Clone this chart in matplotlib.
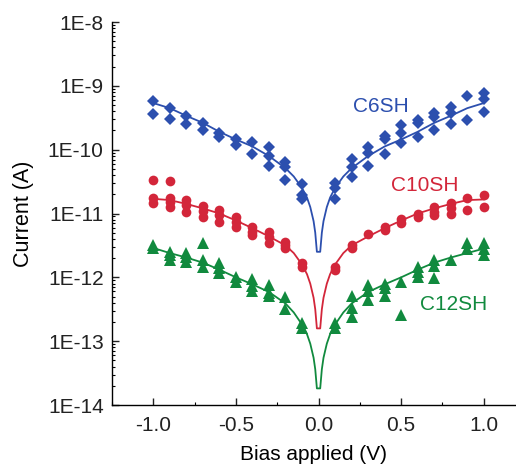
import matplotlib
matplotlib.use("Agg")
import matplotlib.pyplot as plt
import matplotlib.ticker as mpl_tick
import numpy as np

plt.rcParams['font.family'] = ['Liberation Sans', 'DejaVu Sans']
plt.rcParams['axes.unicode_minus'] = False

# gemessene Punkte (Bias in V, Strom in A)
c6_x = [-1.0, -1.0, -0.9, -0.9, -0.8, -0.8, -0.7, -0.7, -0.6, -0.6, -0.5, -0.5,
        -0.4, -0.4, -0.3, -0.3, -0.3, -0.2, -0.2, -0.2, -0.1, -0.1, -0.1,
        0.1, 0.1, 0.1, 0.2, 0.2, 0.2, 0.3, 0.3, 0.3, 0.4, 0.4, 0.4, 0.5, 0.5, 0.5,
        0.6, 0.6, 0.6, 0.7, 0.7, 0.7, 0.8, 0.8, 0.8, 0.9, 0.9, 1.0, 1.0, 1.0]
c6_i = [5.8e-10, 3.6e-10, 4.5e-10, 3.0e-10, 3.4e-10, 2.5e-10, 2.6e-10, 2.0e-10,
        1.8e-10, 1.56e-10, 1.45e-10, 1.2e-10, 1.3e-10, 8.5e-11, 1.1e-10, 7.9e-11, 5.5e-11,
        6.3e-11, 5.3e-11, 3.4e-11, 2.9e-11, 1.95e-11, 1.67e-11,
        3.0e-11, 2.5e-11, 1.7e-11, 7.1e-11, 5.3e-11, 3.7e-11, 1.09e-10, 9.0e-11, 5.5e-11,
        1.64e-10, 1.45e-10, 8.5e-11, 2.4e-10, 1.85e-10, 1.28e-10, 2.9e-10, 2.6e-10, 1.56e-10,
        3.7e-10, 3.3e-10, 2.0e-10, 4.7e-10, 3.8e-10, 2.5e-10, 6.9e-10, 2.9e-10,
        7.8e-10, 6.2e-10, 3.9e-10]

c10_x = [-1.0, -1.0, -1.0, -0.9, -0.9, -0.9, -0.9, -0.8, -0.8, -0.8, -0.7, -0.7, -0.7,
         -0.6, -0.6, -0.6, -0.5, -0.5, -0.5, -0.4, -0.4, -0.4, -0.3, -0.3, -0.3,
         -0.2, -0.2, -0.2, -0.1, -0.1, 0.1, 0.1, 0.2, 0.2, 0.3, 0.4, 0.4, 0.5, 0.5,
         0.6, 0.6, 0.7, 0.7, 0.7, 0.8, 0.8, 0.8, 0.9, 0.9, 1.0, 1.0]
c10_i = [3.35e-11, 1.73e-11, 1.44e-11, 3.2e-11, 1.73e-11, 1.53e-11, 1.28e-11,
         1.63e-11, 1.36e-11, 1.07e-11, 1.31e-11, 1.1e-11, 8.9e-12,
         1.13e-11, 9.5e-12, 7.4e-12, 8.7e-12, 7.4e-12, 6.2e-12, 6.2e-12, 5.2e-12, 4.6e-12,
         5.2e-12, 4.3e-12, 3.4e-12, 3.6e-12, 3.2e-12, 2.85e-12, 1.66e-12, 1.47e-12,
         1.47e-12, 1.3e-12, 3.2e-12, 2.85e-12, 4.8e-12, 6.2e-12, 5.5e-12, 8.1e-12, 7.2e-12,
         1.0e-11, 8.9e-12, 1.28e-11, 1.07e-11, 9.5e-12, 1.44e-11, 1.2e-11, 1.0e-11,
         1.73e-11, 1.13e-11, 1.95e-11, 1.28e-11]

c12_x = [-1.0, -1.0, -0.9, -0.9, -0.9, -0.8, -0.8, -0.8, -0.7, -0.7, -0.7,
         -0.6, -0.6, -0.6, -0.5, -0.5, -0.4, -0.4, -0.4, -0.3, -0.3, -0.3,
         -0.2, -0.2, -0.1, -0.1, 0.1, 0.1, 0.2, 0.2, 0.2, 0.3, 0.3, 0.3,
         0.4, 0.4, 0.4, 0.5, 0.5, 0.6, 0.6, 0.6, 0.7, 0.7, 0.7, 0.8, 0.9, 0.9,
         1.0, 1.0, 1.0]
c12_i = [3.2e-12, 2.85e-12, 2.5e-12, 2.24e-12, 1.87e-12, 2.43e-12, 2.1e-12, 1.76e-12,
         3.5e-12, 1.9e-12, 1.47e-12, 1.7e-12, 1.39e-12, 1.16e-12, 1.02e-12, 8.5e-13,
         9.3e-13, 7.3e-13, 6.0e-13, 7.6e-13, 5.6e-13, 5.1e-13, 4.9e-13, 3.2e-13,
         1.9e-13, 1.6e-13, 1.9e-13, 1.6e-13, 5.1e-13, 3.3e-13, 2.4e-13,
         7.6e-13, 6.0e-13, 4.4e-13, 8.0e-13, 6.7e-13, 5.1e-13, 8.5e-13, 2.6e-13,
         1.47e-12, 1.23e-12, 1.02e-12, 1.9e-12, 1.5e-12, 9.7e-13, 1.9e-12,
         3.5e-12, 2.75e-12, 3.4e-12, 2.75e-12, 2.24e-12]

# Fitkurven (log10 des Stroms)
fit_v = [-1.0, -0.9, -0.8, -0.7, -0.6, -0.5, -0.4, -0.3, -0.2, -0.15, -0.1, -0.07,
         -0.05, -0.03, -0.02, -0.01, 0.01, 0.02, 0.03, 0.05, 0.07, 0.1, 0.15, 0.2,
         0.3, 0.4, 0.5, 0.6, 0.7, 0.8, 0.9, 1.0]
fit_c6 = [-9.27, -9.35, -9.47, -9.58, -9.72, -9.84, -9.95, -10.10, -10.29, -10.42, -10.60,
          -10.75, -10.90, -11.12, -11.30, -11.60, -11.60, -11.30, -11.12, -10.90, -10.75,
          -10.60, -10.42, -10.29, -10.10, -9.95, -9.84, -9.72, -9.58, -9.47, -9.35, -9.27]
fit_c10 = [-10.77, -10.79, -10.85, -10.92, -11.00, -11.11, -11.23, -11.36, -11.50, -11.62,
           -11.80, -11.95, -12.10, -12.32, -12.50, -12.80, -12.80, -12.50, -12.32, -12.10,
           -11.95, -11.80, -11.62, -11.50, -11.36, -11.23, -11.11, -11.00, -10.92, -10.85,
           -10.79, -10.78]
fit_c12 = [-11.54, -11.62, -11.69, -11.77, -11.88, -12.00, -12.11, -12.23, -12.41, -12.55,
           -12.74, -12.89, -13.04, -13.26, -13.44, -13.74, -13.74, -13.44, -13.26, -13.04,
           -12.89, -12.74, -12.55, -12.41, -12.23, -12.11, -12.00, -11.88, -11.77, -11.69,
           -11.62, -11.55]

y_ticks = [1e-14, 1e-13, 1e-12, 1e-11, 1e-10, 1e-9, 1e-8]
y_labels = ["1E-14", "1E-13", "1E-12", "1E-11", "1E-10", "1E-9", "1E-8"]

blau = '#2c4fae'
rot = '#d3263a'
gruen = '#118a3e'

fig = plt.figure(figsize=(5.16, 4.72), dpi=100)
ax = fig.add_axes([112 / 516, 67 / 472, 404 / 516, 383 / 472])

ax.plot(fit_v, 10 ** np.array(fit_c6), color=blau, lw=1.3)
ax.plot(fit_v, 10 ** np.array(fit_c10), color=rot, lw=1.3)
ax.plot(fit_v, 10 ** np.array(fit_c12), color=gruen, lw=1.3)

ax.plot(c6_x, c6_i, 'D', color=blau, ms=6.5, mew=0)
ax.plot(c10_x, c10_i, 'o', color=rot, ms=7, mew=0)
ax.plot(c12_x, c12_i, '^', color=gruen, ms=8, mew=0)

ax.text(0.38, 4.8e-10, "C6SH", color=blau, fontsize=15, ha='center', va='center')
ax.text(0.645, 2.7e-11, "C10SH", color=rot, fontsize=15, ha='center', va='center')
ax.text(0.815, 3.7e-13, "C12SH", color=gruen, fontsize=15, ha='center', va='center')

ax.set_yscale('log')
ax.set_ylim(1e-14, 1e-8)
ax.set_xlim(-1.25, 1.195)
ax.set_yticks(y_ticks)
ax.set_yticklabels(y_labels)
ax.yaxis.set_minor_locator(mpl_tick.LogLocator(base=10, subs=np.arange(2, 10), numticks=20))
ax.yaxis.set_minor_formatter(mpl_tick.NullFormatter())
ax.set_xticks([-1.0, -0.5, 0.0, 0.5, 1.0])
ax.xaxis.set_minor_locator(mpl_tick.MultipleLocator(0.25))
ax.xaxis.set_major_formatter(mpl_tick.FormatStrFormatter('%.1f'))

ax.spines['top'].set_visible(False)
ax.spines['right'].set_visible(False)
ax.spines['left'].set_linewidth(1.0)
ax.spines['bottom'].set_linewidth(1.0)
ax.tick_params(which='major', direction='in', length=5, width=1.0, labelsize=15, pad=6, colors='#222222')
ax.tick_params(axis='x', which='major', pad=8)
ax.tick_params(which='minor', direction='in', length=2.5, width=0.8)

ax.set_xlabel("Bias applied (V)", fontsize=15, labelpad=7)
ax.set_ylabel("Current (A)", fontsize=15.5, labelpad=10)

fig.savefig("out.png", dpi=100)
